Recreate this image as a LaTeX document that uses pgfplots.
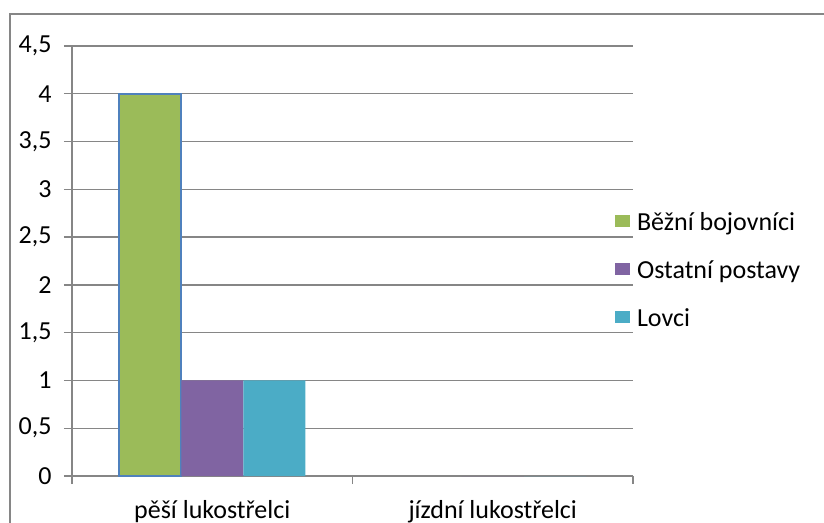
\documentclass[border=0pt]{standalone}
\usepackage{pgfplots}
\pgfplotsset{compat=1.18}
\usepackage{fontspec}
\setmainfont{Carlito}
\definecolor{gridgray}{HTML}{868686}
\definecolor{bgreen}{HTML}{9BBB59}
\definecolor{bpurple}{HTML}{8064A2}
\definecolor{bcyan}{HTML}{4BACC6}
\definecolor{bblue}{HTML}{4F81BD}
\newcommand{\chartfont}{\fontsize{26}{31}\selectfont}
\begin{document}
\begin{tikzpicture}[x=1pt,y=1pt]
\useasboundingbox (0,0) rectangle (824,522);
\draw[gridgray, line width=2pt] (10,-5) -- (10,508) -- (830,508);
\begin{axis}[
  at={(72pt,46pt)}, anchor=south west,
  scale only axis, width=561pt, height=430pt,
  xmin=0, xmax=2, ymin=0, ymax=4.5,
  axis x line=bottom, axis y line=left,
  axis line style={gridgray, line width=1.5pt, -},
  ybar=0pt, bar width=62pt,
  xtick={0,1,2}, xticklabels={},
  extra x ticks={0.5,1.5},
  extra x tick labels={pěší lukostřelci, jízdní lukostřelci},
  extra x tick style={major tick length=0pt,
    xticklabel style={anchor=base, yshift=-42pt}},
  ytick={0,0.5,1,1.5,2,2.5,3,3.5,4,4.5},
  ymajorgrids, grid style={gridgray, line width=1.3pt},
  tick style={gridgray, line width=1.3pt},
  major tick length=8pt, tick align=outside,
  tick label style={font=\chartfont},
  yticklabel style={anchor=east, xshift=-9pt},
  /pgf/number format/use comma,
  /pgf/number format/assume math mode=true,
  legend style={at={(0.968,0.474)}, anchor=west, draw=none, fill=none,
    inner sep=0pt, outer sep=0pt, font=\chartfont,
    nodes={inner sep=0pt, text height=19pt, text depth=6pt},
    column sep=7pt, row sep=23pt},
  legend cell align=left,
  legend image code/.code={\fill[#1, draw=none] (0pt,-3pt) rectangle (15pt,9pt);},
]
% zero-height green bar at the second category is left out: its outline would show on the axis
\addplot[fill=bgreen, draw=bblue, line width=2pt] coordinates {(0.5,4)};
\addplot[fill=bpurple, draw=none] coordinates {(0.5,1) (1.5,0)};
\addplot[fill=bcyan, draw=none] coordinates {(0.5,1) (1.5,0)};
\legend{Běžní bojovníci, Ostatní postavy, Lovci}
\end{axis}
\end{tikzpicture}
\end{document}
